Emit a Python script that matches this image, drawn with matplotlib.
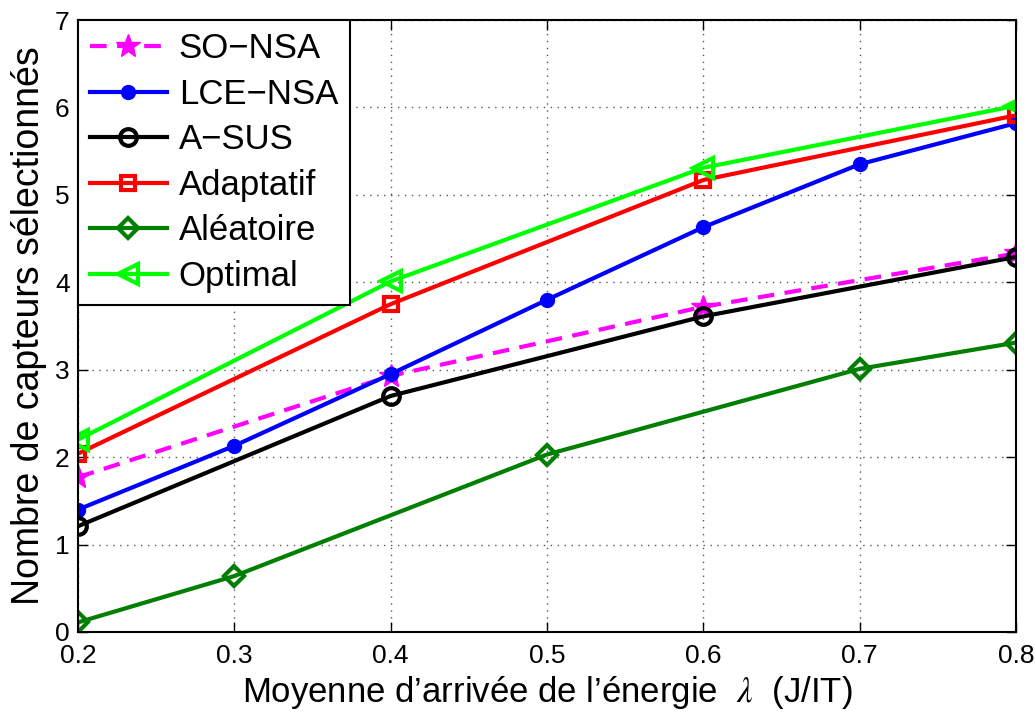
import matplotlib
matplotlib.use("Agg")
import matplotlib.pyplot as plt

plt.rcParams['font.family'] = ['Liberation Sans', 'DejaVu Sans']
plt.rcParams['mathtext.fontset'] = 'stix'

# mean energy arrival rate (J/IT)
lam_4 = [0.2, 0.4, 0.6, 0.8]
lam_7 = [0.2, 0.3, 0.4, 0.5, 0.6, 0.7, 0.8]
lam_rand = [0.2, 0.3, 0.5, 0.7, 0.8]

so_nsa = [1.77, 2.93, 3.72, 4.33]
lce_nsa = [1.40, 2.13, 2.95, 3.80, 4.63, 5.35, 5.82]
a_sus = [1.21, 2.70, 3.61, 4.29]
adaptatif = [2.04, 3.75, 5.17, 5.91]
aleatoire = [0.11, 0.64, 2.03, 3.01, 3.31]
optimal = [2.20, 4.01, 5.31, 6.02]

xticks = [0.2, 0.3, 0.4, 0.5, 0.6, 0.7, 0.8]
yticks = [0, 1, 2, 3, 4, 5, 6, 7]

fig = plt.figure(figsize=(10.35, 7.15), dpi=100)
ax = fig.add_axes([0.0754, 0.1161, 0.9062, 0.8559])

lw = 3
ax.plot(lam_4, so_nsa, '--', color='#ff00ff', lw=lw, marker='*', ms=18,
        label='SO\u2212NSA', dashes=(4, 2.5))
ax.plot(lam_7, lce_nsa, '-', color='#0000ff', lw=lw, marker='o', ms=10,
        label='LCE\u2212NSA')
ax.plot(lam_4, a_sus, '-', color='black', lw=lw, marker='o', ms=12,
        mfc='none', mew=3, label='A\u2212SUS')
ax.plot(lam_4, adaptatif, '-', color='#ff0000', lw=lw, marker='s', ms=10,
        mfc='none', mew=3, label='Adaptatif')
ax.plot(lam_rand, aleatoire, '-', color='#007f00', lw=lw, marker='D', ms=10,
        mfc='none', mew=3, label='Aléatoire')
ax.plot(lam_4, optimal, '-', color='#00ff00', lw=lw, marker='<', ms=15,
        mfc='none', mew=3, label='Optimal')

ax.set_xlim(0.2, 0.8)
ax.set_ylim(0, 7)
ax.set_xticks(xticks)
ax.set_yticks(yticks)
ax.set_xticklabels([f'{v:.1f}' for v in xticks], fontsize=19)
ax.set_yticklabels([str(v) for v in yticks], fontsize=19)
ax.grid(True, color='#555555', linestyle=(0, (1, 4)), lw=1)
ax.tick_params(axis='both', direction='in', top=True, right=True, length=7, width=1)
ax.tick_params(axis='x', pad=9)
ax.tick_params(axis='y', pad=6)
for s in ax.spines.values():
    s.set_linewidth(1.5)

ax.set_xlabel('Moyenne d\u2019arrivée de l\u2019énergie  $\\lambda$  (J/IT)',
              fontsize=25, labelpad=4)
ax.set_ylabel('Nombre de capteurs sélectionnés', fontsize=27, labelpad=6)

leg = ax.legend(loc='upper left', fontsize=25, numpoints=1, fancybox=False,
                framealpha=1, edgecolor='black', borderaxespad=0,
                handlelength=2.2, labelspacing=0.36, borderpad=0.35,
                handletextpad=0.35)
leg.get_frame().set_linewidth(1.5)

fig.savefig('out.png', dpi=100)
